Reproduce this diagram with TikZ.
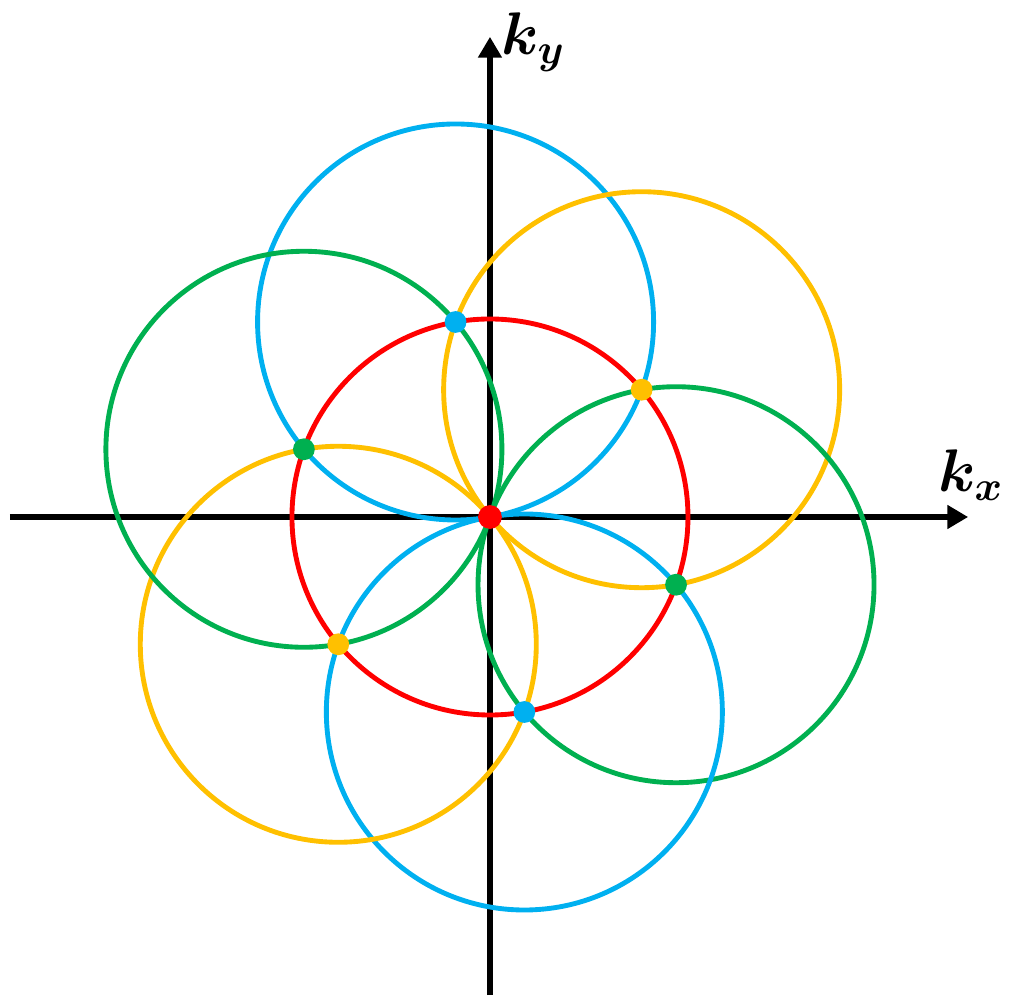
\documentclass[tikz,border=0pt]{standalone}
\usepackage{amsmath, amssymb, bm}
\usepackage{tikz}
\usetikzlibrary{arrows.meta, calc}
\usepackage{xcolor}

\definecolor{cred}{RGB}{255,0,0}
\definecolor{cblue}{RGB}{0,176,240}
\definecolor{cyellow}{RGB}{255,192,0}
\definecolor{cgreen}{RGB}{0,176,80}

\tikzset{
  ring/.style={line width=1.4pt},
  axis/.style={line width=1.75pt, -{Triangle[length=2.1mm, width=2.3mm]}},
  spot/.style={radius=0.11}
}

\begin{document}
\begin{tikzpicture}
  \useasboundingbox (-4.949,-4.889) rectangle (5.283,5.222);

  \coordinate (O) at (0,0);
  \coordinate (XL) at (-4.85,0);
  \coordinate (XR) at (4.83,0);
  \coordinate (YB) at (0,-4.83);
  \coordinate (YT) at (0,4.85);

  % centres on the red ring
  \coordinate (B1) at (100:2);
  \coordinate (Y1) at (40:2);
  \coordinate (G1) at (-20:2);
  \coordinate (B2) at (-80:2);
  \coordinate (Y2) at (-140:2);
  \coordinate (G2) at (160:2);

  \draw[axis] (XL) -- (XR);
  \draw[axis] (YB) -- (YT);

  \draw[ring, cblue] (B1) circle (2);
  \draw[ring, cyellow] (Y1) circle (2);
  \draw[ring, cgreen] (G1) circle (2);
  \draw[ring, cblue] (B2) circle (2);
  \draw[ring, cyellow] (Y2) circle (2);
  \draw[ring, cgreen] (G2) circle (2);
  \draw[ring, cred] (O) circle (2);

  \fill[cblue] (B1) circle[spot];
  \fill[cyellow] (Y1) circle[spot];
  \fill[cgreen] (G1) circle[spot];
  \fill[cblue] (B2) circle[spot];
  \fill[cyellow] (Y2) circle[spot];
  \fill[cgreen] (G2) circle[spot];
  \fill[cred] (O) circle (0.12);

  \node (kx) at (4.86,0.42) {\LARGE $\bm{k_x}$};
  \node (ky) at (0.44,4.8) {\LARGE $\bm{k_y}$};
\end{tikzpicture}
\end{document}
